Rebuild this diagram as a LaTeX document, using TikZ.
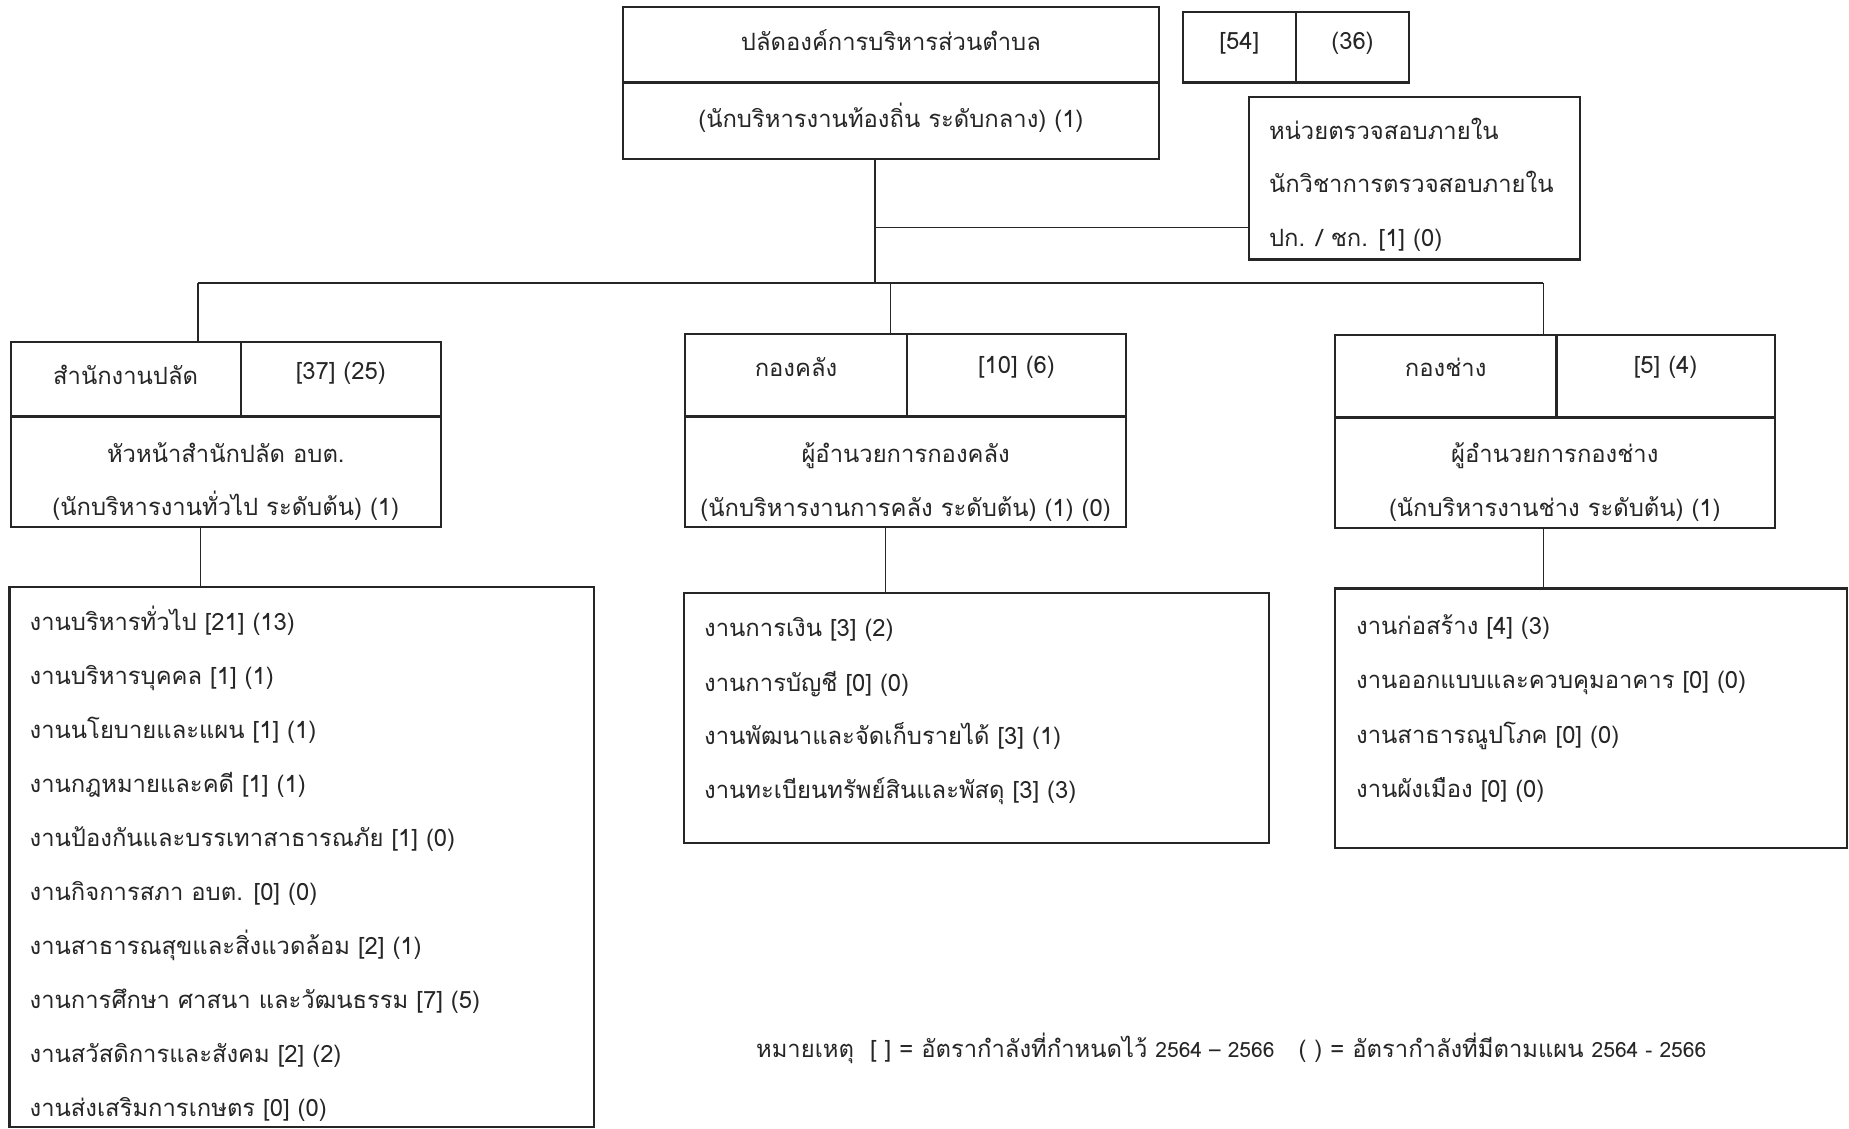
\documentclass[tikz,border=0pt]{standalone}
\usepackage{fontspec}
\setmainfont[Script=Thai]{Loma}
\definecolor{ink}{HTML}{262626}
\newcommand\fs{\fontsize{23.8}{28}\selectfont}
\newcommand\fss{\fontsize{21}{25}\selectfont}
\begin{document}
\begin{tikzpicture}[x=1pt,y=-1pt,
  frame/.style={draw=ink, line width=2.2pt, rectangle, inner sep=0pt, outer sep=0pt, anchor=north west},
  txt/.style={inner sep=0pt, font=\fs, text=ink, text height=17pt, text depth=6pt, yshift=-4pt},
  ltxt/.style={txt, anchor=west},
  link/.style={draw=ink, line width=1.5pt},
  split/.style={draw=ink, line width=3.2pt},
  vsplit/.style={draw=ink, line width=2.2pt}]
\useasboundingbox (0,0) rectangle (1849,1128);
\fill[white] (0,0) rectangle (1849,1128);

% top box
\node[frame, minimum width=536.6pt, minimum height=152.1pt] (top) at (622.6,7.1) {};
\draw[split] (622.6,82.5) -- (1159.2,82.5);
\node[txt] (topA) at (890.9,41.3) {ปลัดองค์การบริหารส่วนตำบล};
\node[txt] (topB) at (890.9,117.9) {(นักบริหารงานท้องถิ่น ระดับกลาง) (1)};

% totals box
\node[frame, minimum width=226.4pt, minimum height=70.7pt] (tot) at (1182.7,11.8) {};
\draw[vsplit] (1295.9,11.8) -- (1295.9,82.5);
\node[txt] (totA) at (1239.3,40) {[54]};
\node[txt] (totB) at (1352.5,40) {(36)};

% audit box
\node[frame, minimum width=331.4pt, minimum height=162.7pt] (audit) at (1248.7,96.7) {};
\node[ltxt] (auA) at (1268.8,129.7) {หน่วยตรวจสอบภายใน};
\node[ltxt] (auB) at (1268.8,182.8) {นักวิชาการตรวจสอบภายใน};
\node[ltxt] (auC) at (1268.8,237.0) {ปก. / ชก. [1] (0)};

% departments
\node[frame, minimum width=430.4pt, minimum height=185.1pt] (dA) at (10.6,342.0) {};
\draw[split] (10.6,416.3) -- (441.0,416.3);
\draw[vsplit] (240.6,342.0) -- (240.6,416.3);
\node[txt] (dAa) at (125.6,375) {สำนักงานปลัด};
\node[txt] (dAb) at (340.8,370) {[37] (25)};
\node[txt] (dAc) at (225.8,452.8) {หัวหน้าสำนักปลัด อบต.};
\node[txt] (dAd) at (225.8,505.9) {(นักบริหารงานทั่วไป ระดับต้น) (1)};

\node[frame, minimum width=441pt, minimum height=193.4pt] (dB) at (685.1,333.7) {};
\draw[split] (685.1,416.3) -- (1126.1,416.3);
\draw[vsplit] (906.8,333.7) -- (906.8,416.3);
\node[txt] (dBa) at (796,366.7) {กองคลัง};
\node[txt] (dBb) at (1016.5,364) {[10] (6)};
\node[txt] (dBc) at (905.6,452.8) {ผู้อำนวยการกองคลัง};
\node[txt] (dBd) at (905.6,507) {(นักบริหารงานการคลัง ระดับต้น) (1) (0)};

\node[frame, minimum width=439.8pt, minimum height=193.4pt] (dC) at (1334.9,334.9) {};
\draw[split] (1334.9,417.4) -- (1774.7,417.4);
\draw[vsplit] (1556.5,334.9) -- (1556.5,417.4);
\node[txt] (dCa) at (1445.7,367) {กองช่าง};
\node[txt] (dCb) at (1665.6,364) {[5] (4)};
\node[txt] (dCc) at (1554.8,452.8) {ผู้อำนวยการกองช่าง};
\node[txt] (dCd) at (1554.8,507) {(นักบริหารงานช่าง ระดับต้น) (1)};

% lists
\node[frame, minimum width=584.9pt, minimum height=539.8pt] (lA) at (9.4,587.2) {};
\node[ltxt] (lA1) at (29.5,621.4) {งานบริหารทั่วไป [21] (13)};
\node[ltxt] (lA2) at (29.5,675.4) {งานบริหารบุคคล [1] (1)};
\node[ltxt] (lA3) at (29.5,729.4) {งานนโยบายและแผน [1] (1)};
\node[ltxt] (lA4) at (29.5,783.4) {งานกฎหมายและคดี [1] (1)};
\node[ltxt] (lA5) at (29.5,837.4) {งานป้องกันและบรรเทาสาธารณภัย [1] (0)};
\node[ltxt] (lA6) at (29.5,891.4) {งานกิจการสภา อบต. [0] (0)};
\node[ltxt] (lA7) at (29.5,945.4) {งานสาธารณสุขและสิ่งแวดล้อม [2] (1)};
\node[ltxt] (lA8) at (29.5,999.4) {งานการศึกษา ศาสนา และวัฒนธรรม [7] (5)};
\node[ltxt] (lA9) at (29.5,1053.4) {งานสวัสดิการและสังคม [2] (2)};
\node[ltxt] (lA10) at (29.5,1107.4) {งานส่งเสริมการเกษตร [0] (0)};

\node[frame, minimum width=584.9pt, minimum height=250pt] (lB) at (683.9,593.1) {};
\node[ltxt] (lB1) at (704,627.3) {งานการเงิน [3] (2)};
\node[ltxt] (lB2) at (704,681.6) {งานการบัญชี [0] (0)};
\node[ltxt] (lB3) at (704,734.6) {งานพัฒนาและจัดเก็บรายได้ [3] (1)};
\node[ltxt] (lB4) at (704,788.9) {งานทะเบียนทรัพย์สินและพัสดุ [3] (3)};

\node[frame, minimum width=511.7pt, minimum height=259.5pt] (lC) at (1334.9,588.4) {};
\node[ltxt] (lC1) at (1356,625) {งานก่อสร้าง [4] (3)};
\node[ltxt] (lC2) at (1356,679) {งานออกแบบและควบคุมอาคาร [0] (0)};
\node[ltxt] (lC3) at (1356,733.5) {งานสาธารณูปโภค [0] (0)};
\node[ltxt] (lC4) at (1356,787.7) {งานผังเมือง [0] (0)};

% legend
\node[ltxt] (legend) at (755.9,1048.3) {หมายเหตุ\ \ [ ] = อัตรากำลังที่กำหนดไว้ {\fss 2564 – 2566}\ \ \ ( ) = อัตรากำลังที่มีตามแผน {\fss 2564 - 2566}};

% connectors
\coordinate (j1) at (875,283);
\coordinate (j2) at (875,227.6);
\coordinate (busL) at (198.1,283);
\coordinate (busM) at (890.3,283);
\coordinate (busR) at (1543.3,283);
\coordinate (kA) at (200.5,560);
\coordinate (kB) at (885.6,560);
\coordinate (kC) at (1543.3,560);
\draw[link] (top.south -| j1) -- (j1);
\draw[link] (j2) -- (j2 -| audit.west);
\draw[link] (busL) -- (busR);
\draw[link] (busL) -- (busL |- dA.north);
\draw[link] (busM) -- (busM |- dB.north);
\draw[link] (busR) -- (busR |- dC.north);
\draw[link] (kA |- dA.south) -- (kA |- lA.north);
\draw[link] (kB |- dB.south) -- (kB |- lB.north);
\draw[link] (kC |- dC.south) -- (kC |- lC.north);
\end{tikzpicture}
\end{document}
